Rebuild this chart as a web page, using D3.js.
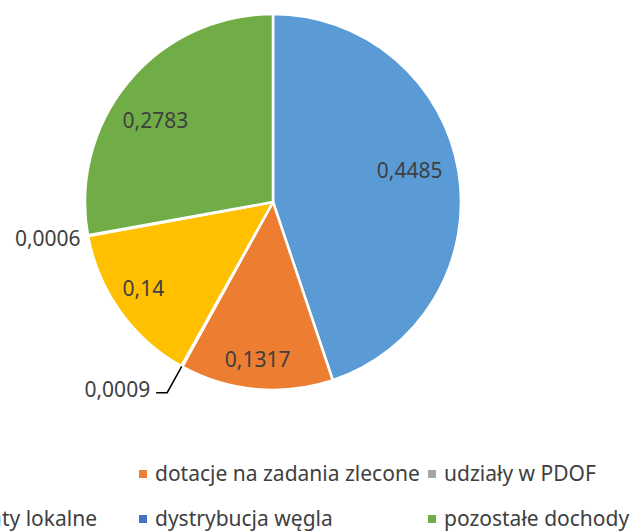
<!DOCTYPE html>
<html>
<head>
<meta charset="utf-8">
<script src="https://cdn.jsdelivr.net/npm/d3@7"></script>
<style>
  body { margin: 0; background: #fff; }
  svg { font-family: "Noto Sans", "Open Sans", sans-serif; }
</style>
</head>
<body>
<svg id="chart" width="630" height="531"></svg>
<script>
const categories = ["subwencje", "dotacje na zadania zlecone", "udziały w PDOF",
    "podatki i opłaty lokalne", "dystrybucja węgla", "pozostałe dochody"];
const values = [0.4485, 0.1317, 0.0009, 0.14, 0.0006, 0.2783];
const labels = ["0,4485", "0,1317", "0,0009", "0,14", "0,0006", "0,2783"];
const colors = ["#5B9BD5", "#ED7D31", "#A5A5A5", "#FFC000", "#4472C4", "#70AD47"];

const svg = d3.select("#chart");
const cx = 273, cy = 202, r = 188;
const fontSize = "21px";

const data = categories.map((c, i) => ({ name: c, value: values[i], label: labels[i], color: colors[i] }));

const pie = d3.pie().sort(null).value(d => d.value);
const arcs = pie(data);
const arc = d3.arc().innerRadius(0).outerRadius(r);

// label placement per slice: [radius factor, angle shift in degrees] (Excel best fit)
const labelFit = [[0.745, -3.5], [0.84, 0.4], null, [0.83, 1.8], null, [0.76, -5.3]];

const g = svg.append("g").attr("transform", `translate(${cx},${cy})`);

g.selectAll("path.slice")
    .data(arcs)
    .enter()
    .append("path")
    .attr("class", "slice")
    .attr("d", arc)
    .attr("fill", d => d.data.color)
    .attr("stroke", "#fff")
    .attr("stroke-width", 2.5)
    .attr("stroke-linejoin", "round");

// point at radius k*r on the middle angle of a slice (+ shift)
function polar(d, k, shift = 0) {
    const a = (d.startAngle + d.endAngle) / 2 + shift * Math.PI / 180;
    return [Math.sin(a) * r * k, -Math.cos(a) * r * k];
}

// inside labels for the big slices
g.selectAll("text.inside")
    .data(arcs.filter((d, i) => labelFit[i]))
    .enter()
    .append("text")
    .attr("class", "inside")
    .attr("transform", d => {
        const f = labelFit[d.index];
        return `translate(${polar(d, f[0], f[1])})`;
    })
    .attr("text-anchor", "middle")
    .attr("dy", "0.35em")
    .style("font-size", fontSize)
    .style("fill", "#404040")
    .text(d => d.data.label);

// 0,0006 sits just outside the edge
const small1 = arcs[4];
const p1 = polar(small1, 1.04);
g.append("text")
    .attr("x", p1[0]).attr("y", p1[1] + 2)
    .attr("text-anchor", "end")
    .attr("dy", "0.35em")
    .style("font-size", fontSize)
    .style("fill", "#404040")
    .text(small1.data.label);

// 0,0009 with a leader line
const small2 = arcs[2];
const a0 = polar(small2, 1.0);
const a1 = polar(small2, 1.16);
g.append("polyline")
    .attr("points", [a0, a1, [a1[0] - 11, a1[1]]].map(p => p.join(",")).join(" "))
    .attr("fill", "none")
    .attr("stroke", "#000")
    .attr("stroke-width", 1.5);
g.append("text")
    .attr("x", a1[0] - 17).attr("y", a1[1] - 3)
    .attr("text-anchor", "end")
    .attr("dy", "0.35em")
    .style("font-size", fontSize)
    .style("fill", "#404040")
    .text(small2.data.label);

// legend, 3 columns x 2 rows; the first column runs off the left edge
const colX = [null, 139, 428];
const rowY = [474, 519];
const legend = svg.append("g");
const items = legend.selectAll("g.item")
    .data(data)
    .enter()
    .append("g")
    .attr("class", "item");
items.append("rect")
    .attr("x", 0).attr("y", -4)
    .attr("width", 8).attr("height", 8)
    .attr("fill", d => d.color);
items.append("text")
    .attr("x", 16)
    .attr("y", 7)
    .style("font-size", fontSize)
    .style("fill", "#404040")
    .text(d => d.name);

// first column: text of the second-row entry ends at x = 97
const firstRowText = items.filter((d, i) => i === 3).select("text").node();
colX[0] = 97 - 16 - firstRowText.getComputedTextLength();
items.attr("transform", (d, i) => `translate(${colX[i % 3]},${rowY[Math.floor(i / 3)]})`);
</script>
</body>
</html>
